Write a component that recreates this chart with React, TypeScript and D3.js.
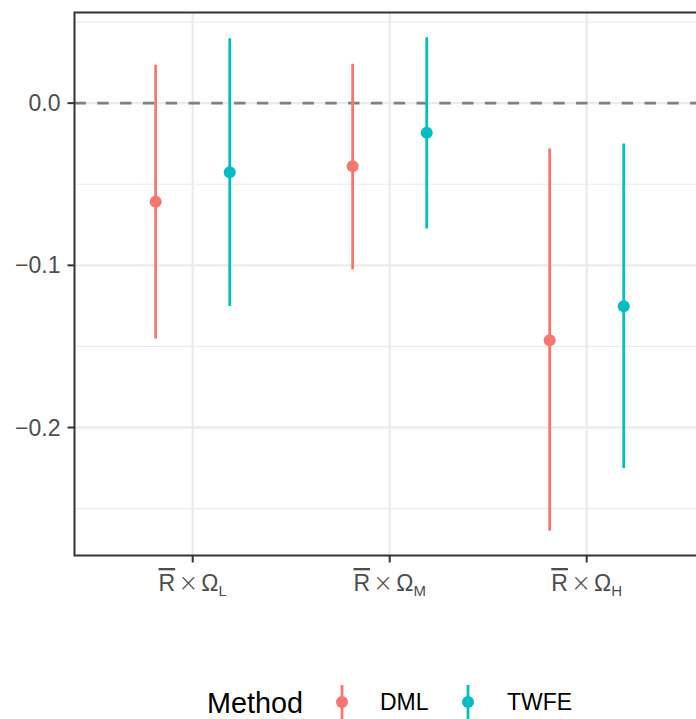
import React from "react";
import * as d3 from "d3";

const categories = ["L", "M", "H"];
const methods = ["DML", "TWFE"];
const estimates = {
  DML: [-0.0608, -0.0389, -0.1462],
  TWFE: [-0.0426, -0.0182, -0.1252],
};
const lowers = {
  DML: [-0.1451, -0.1025, -0.2637],
  TWFE: [-0.125, -0.0772, -0.2249],
};
const uppers = {
  DML: [0.0237, 0.0243, -0.028],
  TWFE: [0.0401, 0.0407, -0.0249],
};
const yTicks = [0, -0.1, -0.2];
const yMinor = [0.05, -0.05, -0.15, -0.25];
const colors = { DML: "#F8766D", TWFE: "#00BFC4" };

const W = 696;
const H = 719;
const panel = { left: 74.5, top: 12.5, right: 704.9, bottom: 555.5 };
const FONT = "'Liberation Sans', Arial, Helvetica, sans-serif";

export default function App() {
  const allLo = d3.min(methods.flatMap((m) => lowers[m])) as number;
  const allHi = d3.max(methods.flatMap((m) => uppers[m])) as number;
  const pad = (allHi - allLo) * 0.05;
  const y = d3
    .scaleLinear()
    .domain([allLo - pad, allHi + pad])
    .range([panel.bottom, panel.top]);
  const x = d3
    .scalePoint<string>()
    .domain(categories)
    .range([panel.left, panel.right])
    .padding(0.6);
  const step = x.step();
  const dodge = { DML: -0.188 * step, TWFE: 0.188 * step };

  const fmt = (v: number) => (v < 0 ? "\u2212" : "") + Math.abs(v).toFixed(1);

  return (
    <svg
      width={W}
      height={H}
      style={{ position: "absolute", left: 0, top: 0, background: "#fff" }}
      fontFamily={FONT}
    >
      <defs>
        <clipPath id="pclip">
          <rect
            x={panel.left}
            y={panel.top}
            width={panel.right - panel.left}
            height={panel.bottom - panel.top}
          />
        </clipPath>
      </defs>
      <rect x={0} y={0} width={W} height={H} fill="#fff" />
      <g clipPath="url(#pclip)">
        {yMinor.map((v) => (
          <line
            key={"mn" + v}
            x1={panel.left}
            x2={panel.right}
            y1={y(v)}
            y2={y(v)}
            stroke="#EBEBEB"
            strokeWidth={1.2}
          />
        ))}
        {yTicks.map((v) => (
          <line
            key={"mj" + v}
            x1={panel.left}
            x2={panel.right}
            y1={y(v)}
            y2={y(v)}
            stroke="#EBEBEB"
            strokeWidth={2.3}
          />
        ))}
        {categories.map((c) => (
          <line
            key={"vx" + c}
            x1={x(c)}
            x2={x(c)}
            y1={panel.top}
            y2={panel.bottom}
            stroke="#EBEBEB"
            strokeWidth={2.3}
          />
        ))}
        <line
          x1={panel.left}
          x2={panel.right}
          y1={y(0)}
          y2={y(0)}
          stroke="#7F7F7F"
          strokeWidth={2.8}
          strokeDasharray="11.4 11.4"
        />
        {methods.map((m) =>
          categories.map((c, i) => {
            const cx = (x(c) as number) + dodge[m];
            return (
              <g key={m + c}>
                <line
                  x1={cx}
                  x2={cx}
                  y1={y(lowers[m][i])}
                  y2={y(uppers[m][i])}
                  stroke={colors[m]}
                  strokeWidth={2.8}
                />
                <circle cx={cx} cy={y(estimates[m][i])} r={6} fill={colors[m]} />
              </g>
            );
          })
        )}
      </g>
      <rect
        x={panel.left}
        y={panel.top}
        width={panel.right - panel.left}
        height={panel.bottom - panel.top}
        fill="none"
        stroke="#333333"
        strokeWidth={2}
      />
      {yTicks.map((v) => (
        <g key={"yt" + v}>
          <line
            x1={panel.left - 7}
            x2={panel.left}
            y1={y(v)}
            y2={y(v)}
            stroke="#333333"
            strokeWidth={2}
          />
          <text
            x={panel.left - 14}
            y={y(v)}
            dy="0.35em"
            textAnchor="end"
            fontSize={23}
            fill="#4D4D4D"
          >
            {fmt(v)}
          </text>
        </g>
      ))}
      {categories.map((c) => (
        <g key={"xt" + c}>
          <line
            x1={x(c)}
            x2={x(c)}
            y1={panel.bottom}
            y2={panel.bottom + 7}
            stroke="#333333"
            strokeWidth={2}
          />
          <text
            x={x(c)}
            y={591}
            textAnchor="middle"
            fontSize={23}
            fill="#4D4D4D"
          >
            <tspan style={{ textDecoration: "overline" }}>R</tspan>
            <tspan dx={3} fontSize={24} fontFamily="'DejaVu Sans', sans-serif" fontWeight={200}>
              {"\u00D7"}
            </tspan>
            <tspan dx={3}>{"\u03A9"}</tspan>
            <tspan dy={5} fontSize={15}>
              {c}
            </tspan>
          </text>
        </g>
      ))}
      <g>
        <text x={207} y={713} fontSize={28.8} fill="#000">
          Method
        </text>
        {methods.map((m, i) => {
          const kx = [342, 468][i];
          const lx = [380, 507][i];
          return (
            <g key={"lg" + m}>
              <line
                x1={kx}
                x2={kx}
                y1={685}
                y2={719}
                stroke={colors[m]}
                strokeWidth={2.8}
              />
              <circle cx={kx} cy={702} r={6} fill={colors[m]} />
              <text x={lx} y={710} fontSize={23} fill="#000">
                {m}
              </text>
            </g>
          );
        })}
      </g>
    </svg>
  );
}
